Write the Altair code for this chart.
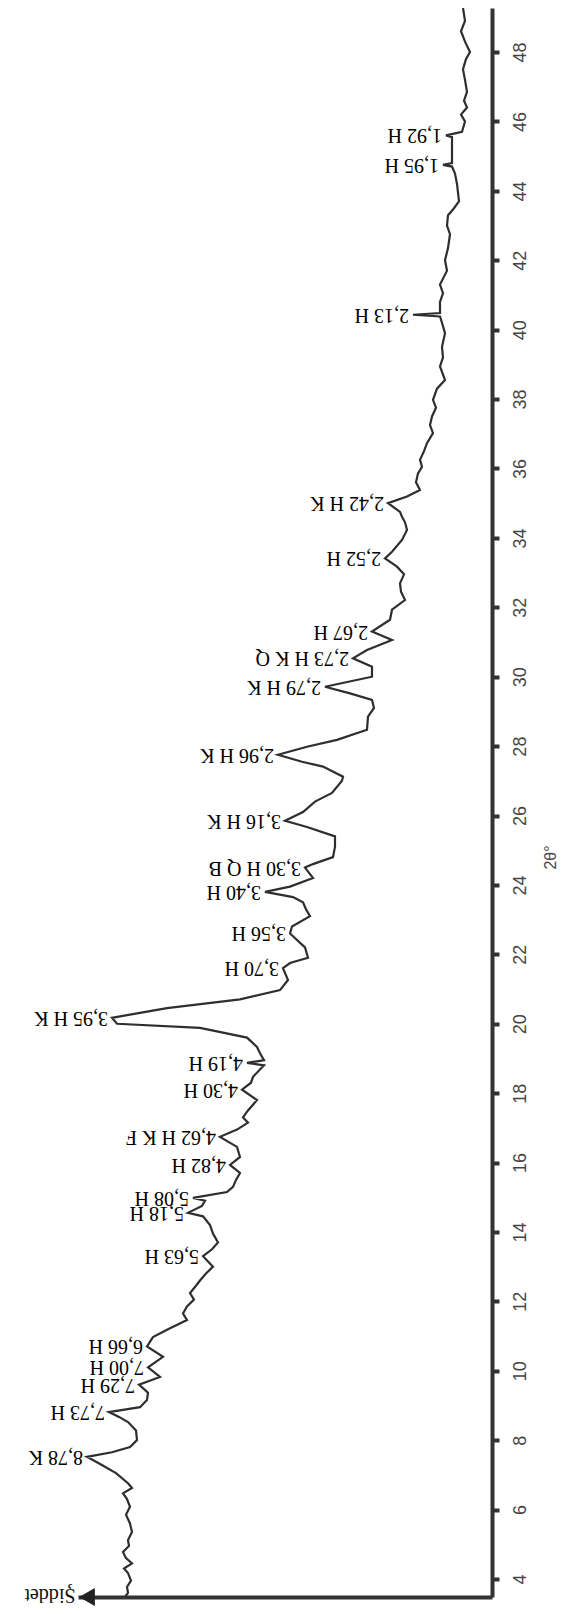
import altair as alt
import pandas as pd

two_theta = [3.48, 3.6, 3.77, 3.95, 4.17, 4.3, 4.45, 4.6, 4.78, 4.95, 5.12, 5.35, 5.6, 5.85, 6.08, 6.3, 6.47,
             6.62, 6.76, 7.05, 7.3, 7.52, 7.65, 7.8, 8.0,
             8.28, 8.52, 8.67, 8.81, 8.95, 9.16, 9.37, 9.6, 9.82, 10.1, 10.4, 10.7, 10.97, 11.18, 11.46, 11.65, 11.85,
             12.05, 12.24, 12.45, 12.6, 12.8, 13.0, 13.3, 13.5, 13.7, 13.95, 14.2, 14.45, 14.55, 14.75, 14.9, 14.98,
             15.15, 15.3, 15.5, 15.7, 15.93, 16.16, 16.45,
             16.74, 16.95, 17.15, 17.3, 17.5, 17.8, 18.1, 18.3, 18.47, 18.8, 18.87, 18.95, 19.15, 19.33, 19.6, 19.88,
             20.0, 20.17, 20.45,
             20.7, 20.97, 21.26, 21.6, 21.75, 21.9, 22.2, 22.6, 22.8, 23.1, 23.3, 23.5, 23.65, 23.8, 23.95, 24.2, 24.5,
             24.6, 24.8, 25.1, 25.4, 25.67, 25.85, 26.1, 26.4, 26.65, 27.0, 27.12, 27.41, 27.55, 27.75, 27.98, 28.18,
             28.47, 28.85, 29.1, 29.33, 29.52, 29.71, 30.0, 30.29, 30.53, 30.77, 31.06, 31.3, 31.64, 31.93, 32.21,
             32.45, 32.69, 32.95, 33.17, 33.41, 33.6, 33.94, 34.23, 34.45, 34.61, 34.75, 35.0, 35.19, 35.38, 35.6,
             35.86, 36.05, 36.25, 36.5, 36.73, 37.02, 37.25,
             37.5, 37.75, 37.98, 38.3, 38.55, 38.94, 39.2, 39.5, 39.9, 40.2, 40.38, 40.43, 40.48, 40.8, 41.05, 41.3,
             41.7, 42.0, 42.35, 42.75, 43.0,
             43.3, 43.5, 43.7, 44.2, 44.5, 44.7, 44.75, 44.8, 45.1, 45.4, 45.55, 45.6, 45.65, 45.7, 46.0, 46.2, 46.4,
             46.6, 46.85, 47.2, 47.5, 47.8, 48.0, 48.3, 48.6, 48.9, 49.27]
intensity = [367, 364, 365, 361, 364, 368, 360, 366, 369, 363, 364, 360, 362, 366, 362, 365, 369,
             360, 364, 376, 391, 405, 380, 362, 355,
             356, 364, 373, 383, 352, 345, 344, 353, 332, 344, 329, 345, 339, 325, 305, 309, 305,
             298, 302, 296, 292, 286, 279, 289, 280, 274, 279, 282, 289, 304, 290, 287, 299,
             265, 259, 256, 252, 262, 252, 255,
             272, 255, 244, 249, 244, 235, 250, 241, 239, 228, 245, 228, 232, 235, 245, 292,
             375, 380, 325,
             252, 212, 204, 209, 202, 184, 187, 202, 200, 182, 186, 189, 199, 227, 202, 179, 187,
             179, 159, 157, 157, 185, 207, 189, 177, 160, 150, 149, 169, 190, 214, 185, 155,
             125, 124, 118, 120, 142, 167, 120, 120, 139, 125, 100, 120, 102, 100, 87,
             91, 92, 88, 95, 107, 100, 90, 85, 87, 90, 92, 104, 85, 72, 76,
             74, 70, 72, 68, 65, 59, 62,
             60, 56, 59, 55, 47, 52, 49, 50, 47, 50, 52, 79, 52, 52, 49, 52,
             45, 47, 44, 42, 45,
             44, 38, 33, 35, 37, 40, 49, 40, 40, 40, 40, 46, 38, 30, 27, 31, 25,
             28, 25, 27, 29, 26, 22, 27, 31, 27, 29]

# Peak annotations: d-spacing + minerals
peak_labels = ["8,78 K", "7,73 H", "7,29 H", "7,00 H", "6,66 H", "5,63 H", "5,18 H", "5,08 H", "4,82 H",
               "4,62 H K F", "4,30 H", "4,19 H", "3,95 H K", "3,70 H", "3,56 H", "3,40 H", "3,30 H Q B",
               "3,16 H K", "2,96 H K", "2,79 H K", "2,73 H K Q", "2,67 H", "2,52 H", "2,42 H K", "2,13 H",
               "1,95 H", "1,92 H"]
peak_theta = [7.52, 8.81, 9.6, 10.1, 10.7, 13.3, 14.55, 14.98, 15.93, 16.74, 18.1, 18.87, 20.17, 21.6, 22.6,
              23.8, 24.5, 25.85, 27.75, 29.71, 30.53, 31.3, 33.41, 35.0, 40.43, 44.75, 45.6]
peak_int = [405, 383, 353, 344, 345, 289, 304, 299, 262, 272, 250, 245, 380, 209, 202, 227, 187, 207, 214,
            167, 139, 120, 107, 104, 79, 49, 46]

theta_ticks = list(range(4, 49, 2))

curve = pd.DataFrame({"t": two_theta, "i": intensity})
peaks = pd.DataFrame({"t": peak_theta, "i": peak_int, "lab": peak_labels})

xscale = alt.Scale(domain=[0, 414], reverse=True, nice=False, zero=False)
yscale = alt.Scale(domain=[3.48, 49.27], nice=False, zero=False)

xaxis = alt.Axis(orient="bottom", ticks=False, labels=False, grid=False,
                 domainWidth=4, domainColor="#333333",
                 title="Şiddet", titleFont="Liberation Serif", titleFontSize=20, titleFontWeight="normal",
                 titleColor="#111111", titleAngle=180, titleAlign="left", titleBaseline="middle",
                 titleX=-3, titleY=-3)
yaxis = alt.Axis(orient="right", values=theta_ticks, grid=False,
                 labelAngle=270, labelAlign="center", labelBaseline="top",
                 labelFont="Liberation Sans", labelFontSize=18, labelColor="#444444",
                 labelPadding=12, tickSize=7, tickWidth=4, tickColor="#333333",
                 domainWidth=4, domainColor="#333333",
                 title="2θ°", titleAngle=270, titleAlign="center", titleBaseline="middle",
                 titleFont="Liberation Sans", titleFontSize=16, titleFontWeight="normal",
                 titleColor="#444444", titleX=58, titleY=849)

line = alt.Chart(curve).mark_line(color="#2e2e2e", strokeWidth=2.2, interpolate="linear").encode(
    x=alt.X("i:Q", scale=xscale, axis=xaxis),
    y=alt.Y("t:Q", scale=yscale, axis=yaxis),
    order="t:Q",
)

labels = alt.Chart(peaks).transform_calculate(lx="datum.i + 4").mark_text(
    angle=180, align="left", baseline="middle", font="Liberation Serif", fontSize=20, color="#000000"
).encode(
    x=alt.X("lx:Q", scale=xscale),
    y=alt.Y("t:Q", scale=yscale),
    text="lab:N",
)

arrow = alt.Chart(pd.DataFrame({"a": [0]})).mark_point(
    shape="triangle-left", filled=True, size=330, color="#222222", opacity=1
).encode(x=alt.value(9), y=alt.value(1589))

chart = alt.layer(line, labels, arrow).properties(
    width=414, height=1589,
    autosize=alt.AutoSizeParams(type="none"),
    padding={"left": 70, "top": 0, "right": 68, "bottom": 9},
).configure(background="white").configure_view(stroke=None, strokeWidth=0)

chart.save("out.html", embed_options={"renderer": "svg", "actions": False})
